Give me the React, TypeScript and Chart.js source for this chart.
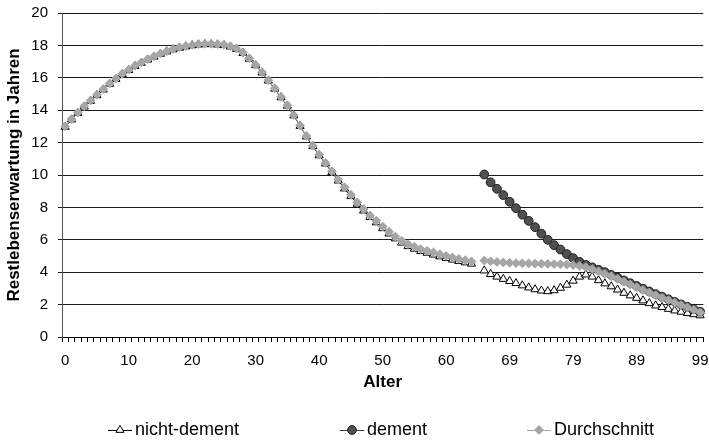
import React, { useEffect, useRef } from 'react';
import { Chart, registerables } from 'chart.js';
import { drawPoint } from 'chart.js/helpers';

Chart.register(...registerables);

// Categories: ages 0..64, an empty gap category, then 65..99
const AGES_YOUNG: string[] = Array.from({ length: 65 }, (_, i) => String(i));
const AGES_OLD: string[] = Array.from({ length: 35 }, (_, i) => String(65 + i));
const CATEGORIES: string[] = [...AGES_YOUNG, '', ...AGES_OLD];

const NICHT_DEMENT_YOUNG = [
  12.97, 13.42, 13.82, 14.22, 14.57, 14.92, 15.27, 15.62, 15.92, 16.22,
  16.47, 16.72, 16.92, 17.12, 17.3, 17.47, 17.62, 17.75, 17.85, 17.93,
  18.0, 18.05, 18.07, 18.07, 18.05, 18.01, 17.92, 17.77, 17.52, 17.17,
  16.77, 16.32, 15.82, 15.32, 14.79, 14.27, 13.67, 13.02, 12.37, 11.77,
  11.21, 10.7, 10.17, 9.65, 9.16, 8.69, 8.22, 7.8, 7.4, 7.07,
  6.71, 6.38, 6.08, 5.82, 5.6, 5.44, 5.3, 5.19, 5.08, 4.97,
  4.87, 4.77, 4.68, 4.6, 4.52,
];
const NICHT_DEMENT_OLD = [
  4.1, 3.88, 3.72, 3.58, 3.45, 3.32, 3.18, 3.05, 2.94, 2.86,
  2.82, 2.88, 3.03, 3.22, 3.47, 3.72, 3.85, 3.72, 3.5, 3.3,
  3.12, 2.92, 2.72, 2.56, 2.41, 2.25, 2.08, 1.94, 1.84, 1.73,
  1.63, 1.55, 1.47, 1.4, 1.33,
];
const DEMENT_OLD = [
  10.03, 9.55, 9.15, 8.76, 8.35, 7.95, 7.55, 7.17, 6.78, 6.38,
  6.0, 5.67, 5.4, 5.12, 4.87, 4.64, 4.45, 4.3, 4.15, 4.0,
  3.83, 3.66, 3.49, 3.32, 3.15, 2.98, 2.81, 2.65, 2.49, 2.33,
  2.17, 2.01, 1.86, 1.71, 1.56,
];
const DURCHSCHNITT_YOUNG = [
  13.0, 13.45, 13.85, 14.25, 14.6, 14.95, 15.3, 15.65, 15.95, 16.25,
  16.5, 16.75, 16.95, 17.15, 17.33, 17.5, 17.65, 17.78, 17.88, 17.96,
  18.03, 18.08, 18.1, 18.1, 18.08, 18.04, 17.95, 17.8, 17.55, 17.2,
  16.8, 16.35, 15.85, 15.35, 14.82, 14.3, 13.7, 13.05, 12.4, 11.8,
  11.25, 10.75, 10.23, 9.72, 9.24, 8.78, 8.31, 7.9, 7.5, 7.18,
  6.82, 6.5, 6.2, 5.94, 5.73, 5.57, 5.43, 5.32, 5.22, 5.11,
  5.01, 4.91, 4.82, 4.74, 4.66,
];
const DURCHSCHNITT_OLD = [
  4.72, 4.67, 4.63, 4.6, 4.58, 4.56, 4.55, 4.54, 4.53, 4.52,
  4.51, 4.5, 4.49, 4.47, 4.44, 4.39, 4.31, 4.19, 4.05, 3.9,
  3.75, 3.58, 3.41, 3.24, 3.07, 2.9, 2.74, 2.58, 2.42, 2.27,
  2.12, 1.97, 1.82, 1.67, 1.52,
];

const SERIES_NAMES = ['nicht-dement', 'dement', 'Durchschnitt'];
const Y_TITLE = 'Restlebenserwartung in Jahren';
const X_TITLE = 'Alter';

const FONT = '"Liberation Sans", Arial, Helvetica, sans-serif';

const LEGEND_POS = [108, 340, 527];

const legendPlugin = {
  id: 'excelLegend',
  afterDraw(chart: any) {
    const ctx = chart.ctx as CanvasRenderingContext2D;
    const y = 430;
    ctx.save();
    chart.data.datasets.forEach((ds: any, i: number) => {
      const x0 = LEGEND_POS[i];
      ctx.strokeStyle = ds.borderColor;
      ctx.lineWidth = 1;
      ctx.beginPath();
      ctx.moveTo(x0, y + 0.5);
      ctx.lineTo(x0 + 24, y + 0.5);
      ctx.stroke();
      ctx.fillStyle = ds.pointBackgroundColor;
      ctx.strokeStyle = ds.pointBorderColor;
      ctx.lineWidth = ds.pointBorderWidth;
      drawPoint(ctx, { pointStyle: ds.pointStyle, radius: ds.pointRadius, rotation: 0, borderWidth: ds.pointBorderWidth } as any, x0 + 12, y);
      ctx.fillStyle = '#000';
      ctx.font = `18px ${FONT}`;
      ctx.textBaseline = 'middle';
      ctx.textAlign = 'left';
      ctx.fillText(ds.label, x0 + 27, y);
    });
    ctx.restore();
  },
};

export default function App() {
  const ref = useRef<HTMLCanvasElement>(null);

  useEffect(() => {
    document.body.style.margin = '0';
    const gap = [null];
    const none66 = new Array(66).fill(null);
    const chart = new Chart(ref.current!, {
      type: 'line',
      data: {
        labels: CATEGORIES,
        datasets: [
          {
            label: SERIES_NAMES[0],
            data: [...NICHT_DEMENT_YOUNG, ...gap, ...NICHT_DEMENT_OLD],
            borderColor: '#000000',
            borderWidth: 1,
            pointStyle: 'triangle',
            pointRadius: 4.7,
            pointBackgroundColor: '#ffffff',
            pointBorderColor: '#000000',
            pointBorderWidth: 1,
            order: 3,
          },
          {
            label: SERIES_NAMES[1],
            data: [...none66, ...DEMENT_OLD],
            borderColor: '#3a3a3a',
            borderWidth: 1,
            pointStyle: 'circle',
            pointRadius: 4.4,
            pointBackgroundColor: '#505050',
            pointBorderColor: '#222222',
            pointBorderWidth: 1,
            order: 2,
          },
          {
            label: SERIES_NAMES[2],
            data: [...DURCHSCHNITT_YOUNG, ...gap, ...DURCHSCHNITT_OLD],
            borderColor: '#a6a6a6',
            borderWidth: 1,
            pointStyle: 'rectRot',
            pointRadius: 4.4,
            pointBackgroundColor: '#a6a6a6',
            pointBorderColor: '#a6a6a6',
            pointBorderWidth: 1,
            order: 1,
          },
        ],
      },
      options: {
        animation: false,
        responsive: false,
        devicePixelRatio: 1,
        spanGaps: false,
        layout: { padding: { top: 13, right: 2, left: 0, bottom: 0 } },
        plugins: {
          legend: { display: false },
          tooltip: { enabled: false },
        },
        elements: { line: { tension: 0 } },
        scales: {
          x: {
            type: 'category',
            offset: true,
            grid: {
              display: true,
              drawOnChartArea: false,
              drawTicks: true,
              tickLength: 5,
              offset: true,
              color: '#000',
            },
            border: { display: true, color: '#000' },
            ticks: {
              autoSkip: false,
              maxRotation: 0,
              minRotation: 0,
              padding: 10,
              color: '#000',
              font: { family: FONT, size: 15 },
              callback: (_v: any, index: number) => (index % 10 === 0 ? CATEGORIES[index] : ''),
            },
            title: {
              display: true,
              text: X_TITLE,
              color: '#000',
              font: { family: FONT, size: 17, weight: 'bold' },
              padding: { top: 0, bottom: 48 },
            },
            afterFit: (scale: any) => {
              scale.height = 104;
              scale.paddingLeft = 0;
              scale.paddingRight = 0;
            },
          },
          y: {
            min: 0,
            max: 20,
            grid: {
              color: '#1a1a1a',
              drawTicks: true,
              tickLength: 4,
            },
            border: { display: true, color: '#555' },
            ticks: {
              stepSize: 2,
              padding: 10,
              color: '#000',
              font: { family: FONT, size: 15 },
            },
            title: {
              display: true,
              text: Y_TITLE,
              color: '#000',
              font: { family: FONT, size: 17, weight: 'bold' },
              padding: { top: 4, bottom: 0 },
            },
            afterFit: (scale: any) => {
              scale.width = 62;
              scale.paddingTop = 0;
              scale.paddingBottom = 0;
            },
          },
        },
      },
      plugins: [legendPlugin],
    } as any);
    return () => chart.destroy();
  }, []);

  return (
    <div style={{ width: 709, height: 441 }}>
      <canvas ref={ref} width={709} height={441} style={{ display: 'block' }} />
    </div>
  );
}
